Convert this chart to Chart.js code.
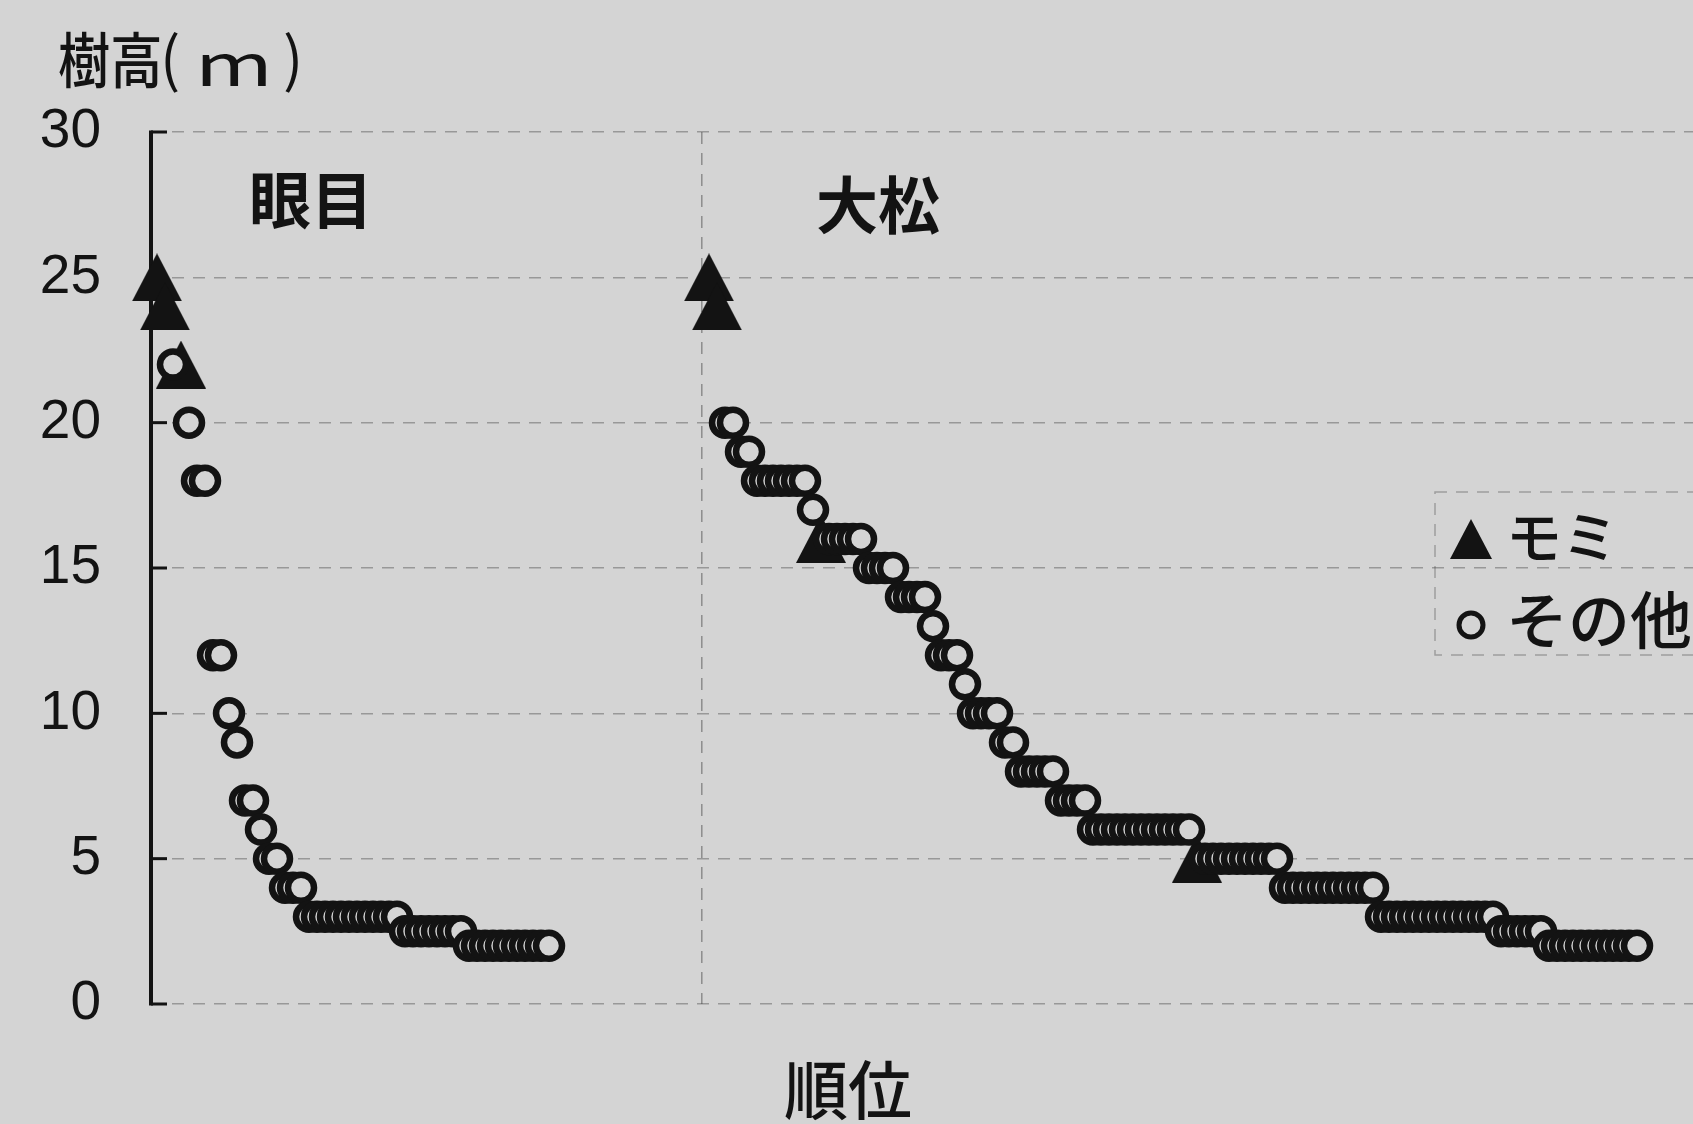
<!DOCTYPE html>
<html lang="ja">
<head>
<meta charset="utf-8">
<title>樹高の順位</title>
<script src="https://cdn.jsdelivr.net/npm/chart.js@4.4.1/dist/chart.umd.min.js"></script>
<style>
  html, body { margin: 0; padding: 0; background: #d4d4d4; }
  #wrap { width: 1693px; height: 1124px; }
</style>
</head>
<body>
<div id="wrap"><canvas id="c" width="1693" height="1124"></canvas></div>
<script>
/* Tree heights ranked tallest -> shortest in two stands (眼目, 大松).
 * ▲ = モミ, ○ = その他. */

var BG = "#d4d4d4";
var INK = "#131313";

// global rank of the first tree of each stand on the shared x axis
var MEME_START = 1;
var OOMATSU_START = 70;
var DIVIDER_RANK = 69.1;   // dashed line between the two stands

// 眼目: heights (m) in rank order, and the ranks that are モミ
var memeHeights = [25, 24, 22, 22, 20, 18, 18, 12, 12, 10, 9, 7, 7, 6, 5, 5, 4, 4, 4,
  3, 3, 3, 3, 3, 3, 3, 3, 3, 3, 3, 3,
  2.5, 2.5, 2.5, 2.5, 2.5, 2.5, 2.5, 2.5,
  2, 2, 2, 2, 2, 2, 2, 2, 2, 2, 2];
var memeMomiRanks = [1, 2, 4];

// 大松: heights (m) in rank order, and the ranks that are モミ
var oomatsuHeights = [25, 24, 20, 20, 19, 19, 18, 18, 18, 18, 18, 18, 18, 17,
  16, 16, 16, 16, 16, 16, 15, 15, 15, 15, 14, 14, 14, 14, 13, 12, 12, 12, 11,
  10, 10, 10, 10, 9, 9, 8, 8, 8, 8, 8, 7, 7, 7, 7,
  6, 6, 6, 6, 6, 6, 6, 6, 6, 6, 6, 6, 6,
  5, 5, 5, 5, 5, 5, 5, 5, 5, 5, 5,
  4, 4, 4, 4, 4, 4, 4, 4, 4, 4, 4, 4,
  3, 3, 3, 3, 3, 3, 3, 3, 3, 3, 3, 3, 3, 3, 3,
  2.5, 2.5, 2.5, 2.5, 2.5, 2.5,
  2, 2, 2, 2, 2, 2, 2, 2, 2, 2, 2, 2];
var oomatsuMomiRanks = [1, 2, 15, 62];

var yTicks = [0, 5, 10, 15, 20, 25, 30];
var seriesLabels = ["モミ", "その他"];

function split(heights, momiRanks, start, momi, other) {
  heights.forEach(function (h, i) {
    var pt = { x: start + i, y: h };
    if (momiRanks.indexOf(i + 1) >= 0) momi.push(pt); else other.push(pt);
  });
}
var momiPts = [], otherPts = [];
split(memeHeights, memeMomiRanks, MEME_START, momiPts, otherPts);
split(oomatsuHeights, oomatsuMomiRanks, OOMATSU_START, momiPts, otherPts);

// Excel-style solid triangle marker (isosceles, centred in its box)
function triangleImage(w, h) {
  var c = document.createElement("canvas");
  c.width = w; c.height = h;
  var g = c.getContext("2d");
  g.fillStyle = INK;
  g.beginPath(); g.moveTo(w / 2, 0); g.lineTo(w, h); g.lineTo(0, h); g.closePath(); g.fill();
  return c;
}
var TRI = triangleImage(50, 48);
var TRI_LEGEND = triangleImage(42, 40);

// text squeezed/stretched horizontally, left edge at x, vertically centred on y
function squeezed(ctx, txt, x, y, font, sx) {
  ctx.save();
  ctx.font = font;
  ctx.textAlign = "left";
  ctx.translate(x, y);
  ctx.scale(sx, 1);
  ctx.fillText(txt, 0, 0);
  ctx.restore();
}

var decor = {
  id: "decor",
  beforeDraw: function (chart) {
    var ctx = chart.ctx;
    ctx.save();
    ctx.fillStyle = BG;
    ctx.fillRect(0, 0, chart.width, chart.height);
    ctx.restore();
  },
  beforeDatasetsDraw: function (chart) {
    var ctx = chart.ctx, a = chart.chartArea;
    var xs = chart.scales.x, ys = chart.scales.y;
    ctx.save();
    // divider between stands
    var dx = xs.getPixelForValue(DIVIDER_RANK);
    ctx.strokeStyle = "rgba(70,70,70,0.5)";
    ctx.lineWidth = 1.5;
    ctx.setLineDash([12, 9]);
    ctx.beginPath(); ctx.moveTo(dx, a.top); ctx.lineTo(dx, a.bottom); ctx.stroke();
    // legend frame
    ctx.strokeStyle = "rgba(70,70,70,0.38)";
    ctx.strokeRect(1435, 492, 300, 163);
    ctx.setLineDash([]);
    // y axis with inside ticks
    ctx.strokeStyle = INK;
    ctx.lineWidth = 4;
    ctx.beginPath(); ctx.moveTo(a.left, a.top - 1.5); ctx.lineTo(a.left, a.bottom + 1.5); ctx.stroke();
    ctx.lineWidth = 3;
    yTicks.forEach(function (v) {
      var y = ys.getPixelForValue(v);
      ctx.beginPath(); ctx.moveTo(a.left, y); ctx.lineTo(a.left + 16, y); ctx.stroke();
    });
    ctx.restore();
  },
  afterDatasetsDraw: function (chart) {
    var ctx = chart.ctx;
    ctx.save();
    ctx.fillStyle = INK;
    ctx.textBaseline = "middle";
    // y axis title 樹高(m)
    squeezed(ctx, "樹高", 58, 60, "500 60px 'Noto Sans CJK JP'", 0.87);
    squeezed(ctx, "(", 160, 58, "60px 'Noto Sans CJK JP'", 1);
    squeezed(ctx, "m", 195, 64, "58px 'Noto Sans CJK JP'", 1.45);
    squeezed(ctx, ")", 283, 58, "60px 'Noto Sans CJK JP'", 1);
    ctx.textAlign = "center";
    ctx.font = "bold 62px 'Noto Sans CJK JP'";
    ctx.fillText("眼目", 311, 200);
    ctx.fillText("大松", 878, 205);
    ctx.font = "500 64px 'Noto Sans CJK JP'";
    ctx.fillText("順位", 848, 1090);
    // legend
    ctx.drawImage(TRI_LEGEND, 1471 - 21, 539 - 20);
    ctx.strokeStyle = INK;
    ctx.lineWidth = 5;
    ctx.beginPath(); ctx.arc(1471, 625, 12, 0, Math.PI * 2); ctx.stroke();
    ctx.textAlign = "left";
    ctx.font = "500 56px 'Noto Sans CJK JP'";
    ctx.fillText(seriesLabels[0], 1506, 537);
    ctx.font = "500 62px 'Noto Sans CJK JP'";
    ctx.fillText(seriesLabels[1], 1506, 620);
    ctx.restore();
  }
};

new Chart(document.getElementById("c"), {
  type: "scatter",
  data: {
    datasets: [
      {
        label: seriesLabels[1], data: otherPts, order: 0, clip: false,
        pointStyle: "circle", pointRadius: 13, pointHoverRadius: 13,
        borderWidth: 6.5, borderColor: INK, backgroundColor: BG
      },
      {
        label: seriesLabels[0], data: momiPts, order: 1, clip: false,
        pointStyle: TRI, pointRadius: 25, borderWidth: 0
      }
    ]
  },
  options: {
    responsive: false, devicePixelRatio: 1, animation: false,
    layout: { autoPadding: false, padding: { top: 132, bottom: 120, left: 0, right: 0 } },
    plugins: { legend: { display: false }, tooltip: { enabled: false } },
    scales: {
      x: { type: "linear", min: 0.25, max: 193, display: false },
      y: {
        min: 0, max: 30,
        afterFit: function (s) { s.width = 151; },
        afterBuildTicks: function (s) { s.ticks = yTicks.map(function (v) { return { value: v }; }); },
        ticks: { color: INK, padding: 50, font: { family: "'Liberation Sans', Arial", size: 55 } },
        grid: { color: "rgba(70,70,70,0.42)", lineWidth: 1.5, drawTicks: false },
        border: { display: false, dash: [12, 9] }
      }
    }
  },
  plugins: [decor]
});
</script>
</body>
</html>
